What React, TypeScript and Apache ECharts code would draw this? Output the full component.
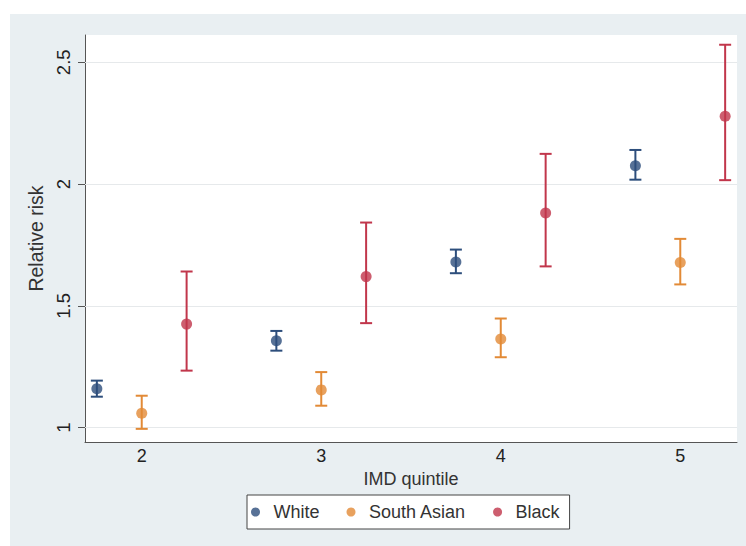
import React, { useEffect, useRef } from "react";
import * as echarts from "echarts";

const quintiles = [2, 3, 4, 5];
const groupNames = ["White", "South Asian", "Black"];
const groupOffsets = [-0.25, 0, 0.25];
const groupColors = ["#2d4e7c", "#e28a36", "#c1364b"];

const whiteRR = [1.16, 1.357, 1.68, 2.075];
const whiteLo = [1.127, 1.316, 1.634, 2.018];
const whiteHi = [1.193, 1.397, 1.731, 2.14];

const southAsianRR = [1.059, 1.155, 1.364, 1.678];
const southAsianLo = [0.995, 1.09, 1.289, 1.588];
const southAsianHi = [1.131, 1.228, 1.448, 1.775];

const blackRR = [1.425, 1.62, 1.881, 2.278];
const blackLo = [1.234, 1.429, 1.662, 2.016];
const blackHi = [1.641, 1.842, 2.124, 2.572];

const yTicks = [1, 1.5, 2, 2.5];
const xTicks = [2, 3, 4, 5];

const FONT = "'Liberation Sans', Arial, Helvetica, sans-serif";

export default function App() {
  const ref = useRef<HTMLDivElement>(null);

  useEffect(() => {
    if (!ref.current) return;
    const chart = echarts.init(ref.current, undefined, { renderer: "svg" });

    const groups = [
      { rr: whiteRR, lo: whiteLo, hi: whiteHi },
      { rr: southAsianRR, lo: southAsianLo, hi: southAsianHi },
      { rr: blackRR, lo: blackLo, hi: blackHi },
    ];

    const series: any[] = [];
    groups.forEach((g, gi) => {
      const color = groupColors[gi];
      const off = groupOffsets[gi];
      series.push({
        name: groupNames[gi] + " CI",
        type: "custom",
        silent: true,
        z: 2,
        encode: { x: 0, y: [1, 2] },
        data: quintiles.map((q, i) => [q + off, g.lo[i], g.hi[i]]),
        renderItem: (params: any, api: any) => {
          const x = api.value(0);
          const pLo = api.coord([x, api.value(1)]);
          const pHi = api.coord([x, api.value(2)]);
          const cap = 6;
          const st = { stroke: color, lineWidth: 2 };
          return {
            type: "group",
            children: [
              { type: "line", shape: { x1: pLo[0], y1: pLo[1], x2: pHi[0], y2: pHi[1] }, style: st },
              { type: "line", shape: { x1: pLo[0] - cap, y1: pLo[1], x2: pLo[0] + cap, y2: pLo[1] }, style: st },
              { type: "line", shape: { x1: pHi[0] - cap, y1: pHi[1], x2: pHi[0] + cap, y2: pHi[1] }, style: st },
            ],
          };
        },
      });
      series.push({
        name: groupNames[gi],
        type: "scatter",
        z: 3,
        symbol: "circle",
        symbolSize: 11,
        itemStyle: { color },
        data: quintiles.map((q, i) => [q + off, g.rr[i]]),
        markLine:
          gi === 0
            ? {
                silent: true,
                symbol: "none",
                label: { show: false },
                lineStyle: { color: "#e6e9eb", type: "solid", width: 1 },
                data: yTicks.map((v) => ({ yAxis: v })),
                z: 1,
              }
            : undefined,
      });
    });

    chart.setOption({
      animation: false,
      backgroundColor: "#e9eff2",
      textStyle: { fontFamily: FONT },
      graphic: {
        elements: [
          { type: "rect", shape: { x: 0, y: 0, width: 746, height: 14 }, style: { fill: "#ffffff" }, silent: true },
          { type: "rect", shape: { x: 0, y: 0, width: 10, height: 546 }, style: { fill: "#ffffff" }, silent: true },
        ],
      },
      grid: {
        left: 85,
        top: 35,
        right: 9,
        bottom: 104,
        show: true,
        backgroundColor: "#ffffff",
        borderWidth: 0,
      },
      xAxis: {
        type: "value",
        min: 1.684,
        max: 5.316,
        name: "IMD quintile",
        nameLocation: "middle",
        nameGap: 20,
        nameTextStyle: { fontSize: 18, color: "#333", fontFamily: FONT },
        axisLine: { show: true, onZero: false, lineStyle: { color: "#555", width: 1 } },
        axisTick: { show: false },
        splitLine: { show: false },
        axisLabel: {
          customValues: xTicks,
          fontSize: 18,
          color: "#222",
          margin: 5,
          fontFamily: FONT,
        },
      },
      yAxis: {
        type: "value",
        min: 0.941,
        max: 2.612,
        name: "Relative risk",
        nameLocation: "middle",
        nameGap: 34,
        nameTextStyle: { fontSize: 19.5, color: "#333", fontFamily: FONT },
        axisLine: { show: true, lineStyle: { color: "#555", width: 1 } },
        axisTick: { show: true, customValues: yTicks, length: 7, lineStyle: { color: "#555" } },
        splitLine: { show: false },
        axisLabel: {
          customValues: yTicks,
          rotate: 90,
          fontSize: 18.5,
          color: "#222",
          margin: 12,
          fontFamily: FONT,
        },
      },
      legend: {
        data: groupNames,
        left: 247,
        top: 495,
        orient: "horizontal",
        icon: "circle",
        itemWidth: 14,
        itemHeight: 9,
        itemGap: 27,
        padding: [8, 10, 8, 4],
        borderColor: "#444",
        borderWidth: 1,
        backgroundColor: "#ffffff",
        textStyle: { fontSize: 18, color: "#333", fontFamily: FONT, padding: [0, 0, 0, 6] },
      },
      series,
    });

    return () => chart.dispose();
  }, []);

  return (
    <div
      ref={ref}
      style={{ position: "fixed", left: 0, top: 0, width: 746, height: 546 }}
    />
  );
}
